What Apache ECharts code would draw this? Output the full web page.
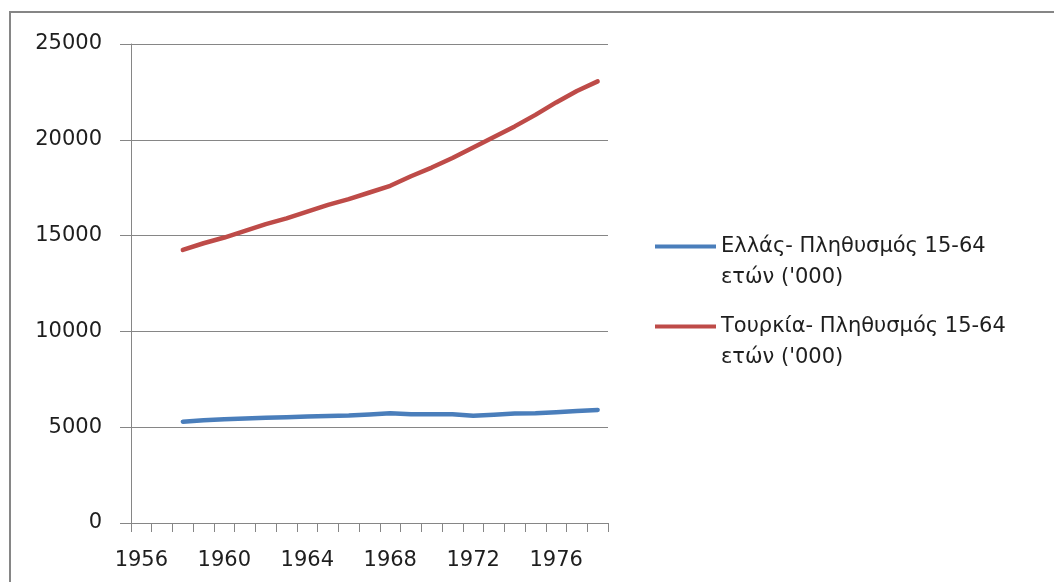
<!DOCTYPE html>
<html>
<head>
<meta charset="utf-8">
<script src="https://cdn.jsdelivr.net/npm/echarts@6/dist/echarts.min.js"></script>
<style>
html,body{margin:0;padding:0;background:#fff;}
#chart{width:1054px;height:582px;}
</style>
</head>
<body>
<div id="chart"></div>
<script>
var years = ['1956','1957','1958','1959','1960','1961','1962','1963','1964','1965','1966','1967','1968','1969','1970','1971','1972','1973','1974','1975','1976','1977','1978'];
var greece = [null,null,5290,5360,5420,5450,5490,5520,5560,5590,5610,5660,5730,5680,5680,5680,5600,5650,5710,5730,5780,5840,5900];
var turkey = [null,null,14250,14600,14900,15250,15600,15900,16250,16600,16900,17250,17600,18100,18550,19050,19600,20150,20700,21300,21950,22550,23050];
var seriesNames = ["Ελλάς- Πληθυσμός 15-64\nετών ('000)", "Τουρκία- Πληθυσμός 15-64\nετών ('000)"];
var yTicks = {min:0, max:25000, interval:5000};

var FONT = 'DejaVu Sans';
var TXT = '#1e1e1e';
var AX = '#868686';
var FS = 21;
var LH = 31;

function legendCfg(name, top){
  return {orient:'vertical', left:650, top:top, data:[name], icon:'rect', itemWidth:61, itemHeight:4, itemGap:0,
    formatter:function(n){ return ' \n' + n; },
    textStyle:{fontFamily:FONT, fontSize:FS, color:TXT, lineHeight:LH}};
}

var chart = echarts.init(document.getElementById('chart'));
chart.setOption({
  animation:false,
  backgroundColor:'#fff',
  graphic:[{type:'rect', shape:{x:10,y:12,width:1200,height:700}, style:{fill:'none', stroke:AX, lineWidth:2}, silent:true, z:-1}],
  grid:{left:131, right:446, top:44, bottom:59, containLabel:false},
  legend:[legendCfg(seriesNames[0], 195), legendCfg(seriesNames[1], 275)],
  xAxis:{type:'category', data:years, boundaryGap:true,
    axisLine:{show:true, lineStyle:{color:AX, width:1}},
    axisTick:{show:true, interval:0, length:9, lineStyle:{color:AX}},
    axisLabel:{interval:3, fontFamily:FONT, fontSize:FS, color:TXT, margin:27},
    splitLine:{show:false}},
  yAxis:{type:'value', min:yTicks.min, max:yTicks.max, interval:yTicks.interval,
    axisLine:{show:true, lineStyle:{color:AX, width:1}},
    axisTick:{show:true, length:11, lineStyle:{color:AX}},
    axisLabel:{fontFamily:FONT, fontSize:FS, color:TXT, margin:29, formatter:function(v){return String(v);}},
    splitLine:{show:true, lineStyle:{color:AX, width:1}}},
  series:[
    {name:seriesNames[0], type:'line', data:greece, symbol:'none', connectNulls:false,
     lineStyle:{color:'#4a7ebb', width:4.5, cap:'round', join:'round'}, itemStyle:{color:'#4a7ebb'}},
    {name:seriesNames[1], type:'line', data:turkey, symbol:'none', connectNulls:false,
     lineStyle:{color:'#be4b48', width:4.5, cap:'round', join:'round'}, itemStyle:{color:'#be4b48'}}
  ]
});
</script>
</body>
</html>
